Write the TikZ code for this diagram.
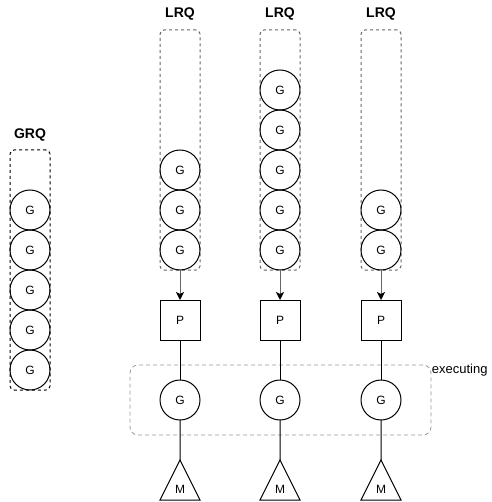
\documentclass[tikz,border=0pt]{standalone}
\usepackage{fontspec}
\setmainfont{Liberation Sans}
\usepackage{xcolor}
\usepackage{tikz}
\usetikzlibrary{shapes.geometric, arrows.meta, positioning, fit, backgrounds}
\definecolor{qgray}{HTML}{666666}
\definecolor{egray}{HTML}{9A9A9A}

\begin{document}
\begin{tikzpicture}[x=1pt, y=-1pt, line width=1pt]
\tikzstyle{queue} = [rectangle, draw=qgray, dash pattern=on 3pt off 3pt, rounded corners=4pt, minimum width=40pt, minimum height=240pt, inner sep=0pt, outer sep=0pt]
\tikzstyle{title} = [font=\bfseries\fontsize{14}{16}\selectfont, inner sep=0pt]
\tikzstyle{gor} = [circle, draw, minimum size=40pt, inner sep=0pt, outer sep=0pt, font=\fontsize{12}{14}\selectfont]
\tikzstyle{proc} = [rectangle, draw, minimum size=40pt, inner sep=0pt, outer sep=0pt, font=\fontsize{12}{14}\selectfont]
\tikzstyle{mach} = [isosceles triangle, shape border rotate=90, isosceles triangle stretches, minimum width=40pt, minimum height=40pt, draw, inner sep=0pt, outer sep=0pt, font=\fontsize{12}{14}\selectfont]
\tikzstyle{execbox} = [rectangle, draw=egray, line width=0.8pt, dash pattern=on 4pt off 3pt, rounded corners=8pt, inner xsep=30pt, inner ysep=15pt]
\tikzstyle{note} = [font=\fontsize{13}{15}\selectfont, inner sep=0pt]
\tikzstyle{flow} = [draw=qgray, -{Stealth[length=8pt, width=8pt, inset=2pt, black]}]

\useasboundingbox (0,0) rectangle (491,502);

\node (grq) [queue, draw=black] at (30,270) {};
\node (grq_lbl) [title, above=8pt of grq] {GRQ};
\node (grq_g5) [gor, above=0pt of grq.south] {G};
\node (grq_g4) [gor, above=0pt of grq_g5] {G};
\node (grq_g3) [gor, above=0pt of grq_g4] {G};
\node (grq_g2) [gor, above=0pt of grq_g3] {G};
\node (grq_g1) [gor, above=0pt of grq_g2] {G};

\node (lrq1) [queue] at (180,150) {};
\node (lrq1_lbl) [title, above=9pt of lrq1] {LRQ};
\node (lrq1_g3) [gor, above=0pt of lrq1.south] {G};
\node (lrq1_g2) [gor, above=0pt of lrq1_g3] {G};
\node (lrq1_g1) [gor, above=0pt of lrq1_g2] {G};

\node (lrq2) [queue, right=60pt of lrq1] {};
\node (lrq2_lbl) [title, above=9pt of lrq2] {LRQ};
\node (lrq2_g5) [gor, above=0pt of lrq2.south] {G};
\node (lrq2_g4) [gor, above=0pt of lrq2_g5] {G};
\node (lrq2_g3) [gor, above=0pt of lrq2_g4] {G};
\node (lrq2_g2) [gor, above=0pt of lrq2_g3] {G};
\node (lrq2_g1) [gor, above=0pt of lrq2_g2] {G};

\node (lrq3) [queue, right=61pt of lrq2] {};
\node (lrq3_lbl) [title, above=9pt of lrq3] {LRQ};
\node (lrq3_g2) [gor, above=0pt of lrq3.south] {G};
\node (lrq3_g1) [gor, above=0pt of lrq3_g2] {G};

\node (p1) [proc, below=30pt of lrq1] {P};
\node (p2) [proc, below=30pt of lrq2] {P};
\node (p3) [proc, below=30pt of lrq3] {P};

\node (run1) [gor, below=40pt of p1] {G};
\node (run2) [gor, below=40pt of p2] {G};
\node (run3) [gor, below=40pt of p3] {G};

\node (m1) [mach, below=40pt of run1] {M};
\node (m2) [mach, below=40pt of run2] {M};
\node (m3) [mach, below=40pt of run3] {M};

\node (exec) [execbox, fit=(run1)(run3)] {};
\node (exec_lbl) [note, anchor=west] at ([yshift=-6pt]exec.north east) {executing};

\draw [flow] (lrq1.south) -- (p1);
\draw [flow] (lrq2.south) -- (p2);
\draw [flow] (lrq3.south) -- (p3);

\draw (p1) -- (run1);
\draw (p2) -- (run2);
\draw (p3) -- (run3);

\draw (run1) -- (m1);
\draw (run2) -- (m2);
\draw (run3) -- (m3);

\end{tikzpicture}
\end{document}
